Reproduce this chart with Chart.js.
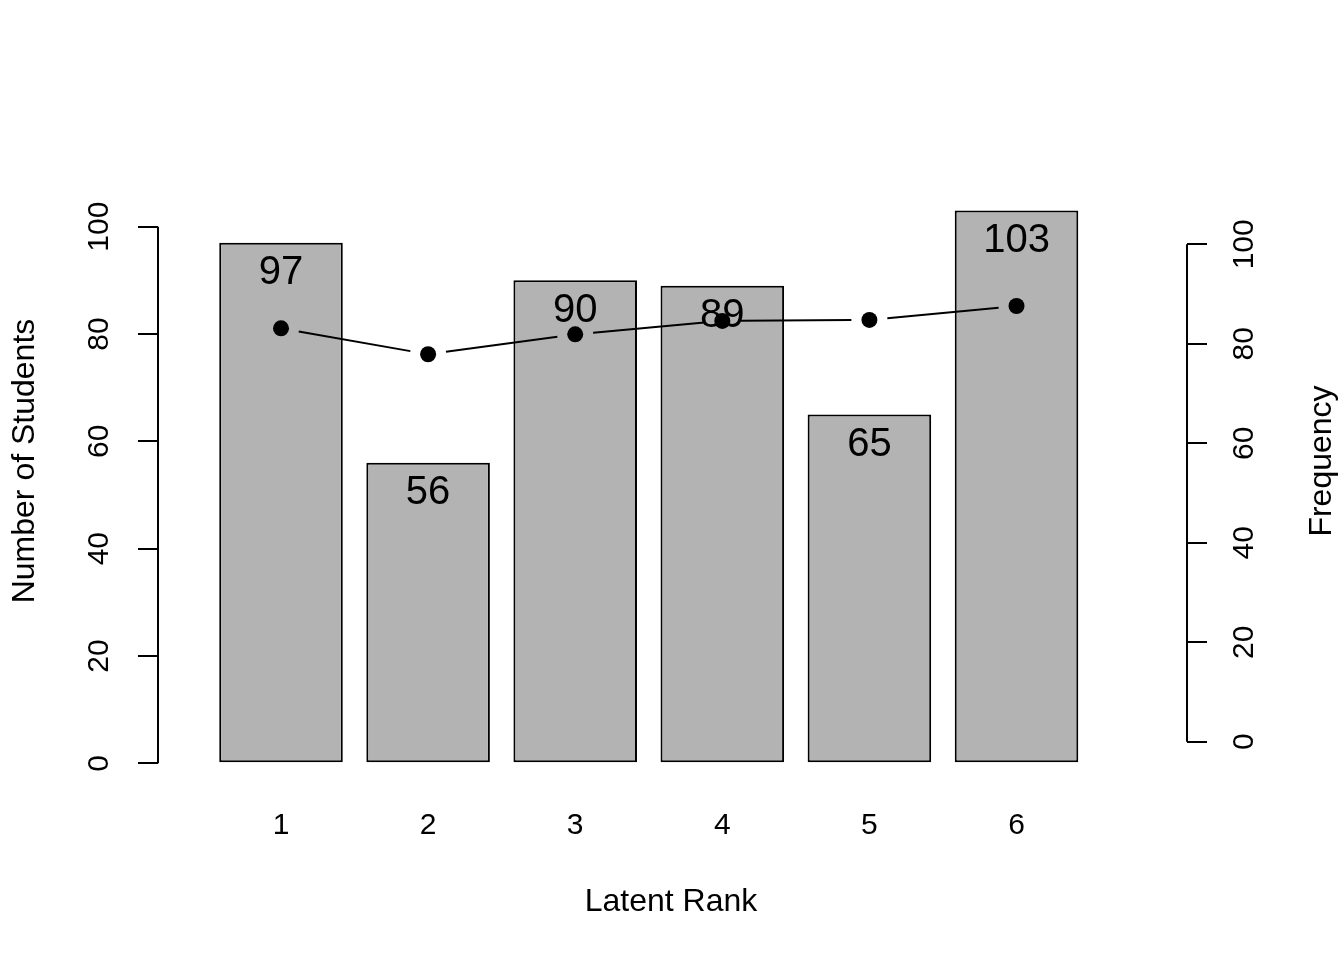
<!DOCTYPE html>
<html>
<head>
<meta charset="utf-8">
<script src="https://cdn.jsdelivr.net/npm/chart.js@4.4.1/dist/chart.umd.min.js"></script>
<style>body{margin:0;background:#fff}</style>
</head>
<body>
<canvas id="c" width="1344" height="960"></canvas>
<script>
const ranks=[1,2,3,4,5,6];
const students=[97,56,90,89,65,103];
const freq=[83.1,77.9,81.9,84.6,84.8,87.6];
const leftTicks=[0,20,40,60,80,100];
const rightTicks=[0,20,40,60,80,100];

const FONT='"Liberation Sans", Arial, Helvetica, sans-serif';

// axis lines, rotated tick labels, titles, bar labels and the gapped line
const extras={
  id:'extras',
  afterDatasetsDraw(chart){
    const ctx=chart.ctx;
    ctx.save();
    ctx.fillStyle='#000';
    ctx.font='40px '+FONT;
    ctx.textAlign='center';
    ctx.textBaseline='middle';
    chart.getDatasetMeta(1).data.forEach((b,i)=>{
      ctx.fillText(String(students[i]),b.x,b.y+30.5);
    });
    const pts=chart.getDatasetMeta(0).data;
    ctx.strokeStyle='#000';
    ctx.lineWidth=2;
    for(let i=0;i<pts.length-1;i++){
      const a=pts[i],b=pts[i+1];
      const dx=b.x-a.x,dy=b.y-a.y,d=Math.hypot(dx,dy);
      const ux=dx/d,uy=dy/d,g=18;
      ctx.beginPath();
      ctx.moveTo(a.x+ux*g,a.y+uy*g);
      ctx.lineTo(b.x-ux*g,b.y-uy*g);
      ctx.stroke();
    }
    ctx.restore();
  },
  afterDraw(chart){
    const ctx=chart.ctx;
    const y=chart.scales.y,y2=chart.scales.y2;
    ctx.save();
    ctx.strokeStyle='#000';
    ctx.lineWidth=2;
    ctx.beginPath();
    ctx.moveTo(y.right,y.getPixelForValue(leftTicks[0]));
    ctx.lineTo(y.right,y.getPixelForValue(leftTicks[leftTicks.length-1]));
    ctx.moveTo(y2.left,y2.getPixelForValue(rightTicks[0]));
    ctx.lineTo(y2.left,y2.getPixelForValue(rightTicks[rightTicks.length-1]));
    ctx.stroke();

    ctx.fillStyle='#000';
    ctx.textAlign='center';
    ctx.textBaseline='middle';
    ctx.font='30px '+FONT;
    leftTicks.forEach(v=>{
      ctx.save();
      ctx.translate(100,y.getPixelForValue(v));
      ctx.rotate(-Math.PI/2);
      ctx.fillText(String(v),0,0);
      ctx.restore();
    });
    rightTicks.forEach(v=>{
      ctx.save();
      ctx.translate(1245,y2.getPixelForValue(v));
      ctx.rotate(-Math.PI/2);
      ctx.fillText(String(v),0,0);
      ctx.restore();
    });

    ctx.font='32px '+FONT;
    ctx.fillText('Latent Rank',671,902);
    ctx.save();
    ctx.translate(25,461);
    ctx.rotate(-Math.PI/2);
    ctx.fillText('Number of Students',0,0);
    ctx.restore();
    ctx.save();
    ctx.translate(1322,461);
    ctx.rotate(-Math.PI/2);
    ctx.fillText('Frequency',0,0);
    ctx.restore();
    ctx.restore();
  }
};

new Chart('c',{
  type:'bar',
  data:{
    datasets:[
      {
        type:'scatter',
        data:ranks.map((r,i)=>({x:r,y:freq[i]})),
        yAxisID:'y2',
        pointRadius:8,
        pointBackgroundColor:'#000',
        pointBorderWidth:0,
        showLine:false,
        order:1
      },
      {
        type:'bar',
        data:ranks.map((r,i)=>({x:r,y:students[i]})),
        yAxisID:'y',
        backgroundColor:'#B3B3B3',
        borderColor:'#000',
        borderWidth:2,
        borderSkipped:false,
        barPercentage:0.84,
        categoryPercentage:1,
        order:2
      }
    ]
  },
  options:{
    responsive:false,
    animation:false,
    layout:{padding:{top:190,left:0,right:0,bottom:0}},
    plugins:{legend:{display:false},tooltip:{enabled:false}},
    scales:{
      x:{
        type:'linear',
        position:'bottom',
        offset:false,
        min:0.1638,
        max:7.159,
        afterBuildTicks(s){s.ticks=ranks.map(v=>({value:v}));},
        afterFit(s){s.height=175;},
        grid:{display:false},
        border:{display:false},
        ticks:{padding:15,color:'#000',font:{family:FONT,size:30},callback:v=>String(v)}
      },
      y:{
        type:'linear',
        position:'left',
        min:-4.044,
        max:106.84,
        afterBuildTicks(s){s.ticks=leftTicks.map(v=>({value:v}));},
        afterFit(s){s.width=158;},
        grid:{drawOnChartArea:false,drawTicks:true,tickLength:20,color:'#000',lineWidth:2},
        border:{display:false},
        ticks:{display:false}
      },
      y2:{
        type:'linear',
        position:'right',
        min:-8.705,
        max:110.92,
        afterBuildTicks(s){s.ticks=rightTicks.map(v=>({value:v}));},
        afterFit(s){s.width=157;},
        grid:{drawOnChartArea:false,drawTicks:true,tickLength:20,color:'#000',lineWidth:2},
        border:{display:false},
        ticks:{display:false}
      }
    }
  },
  plugins:[extras]
});
</script>
</body>
</html>
